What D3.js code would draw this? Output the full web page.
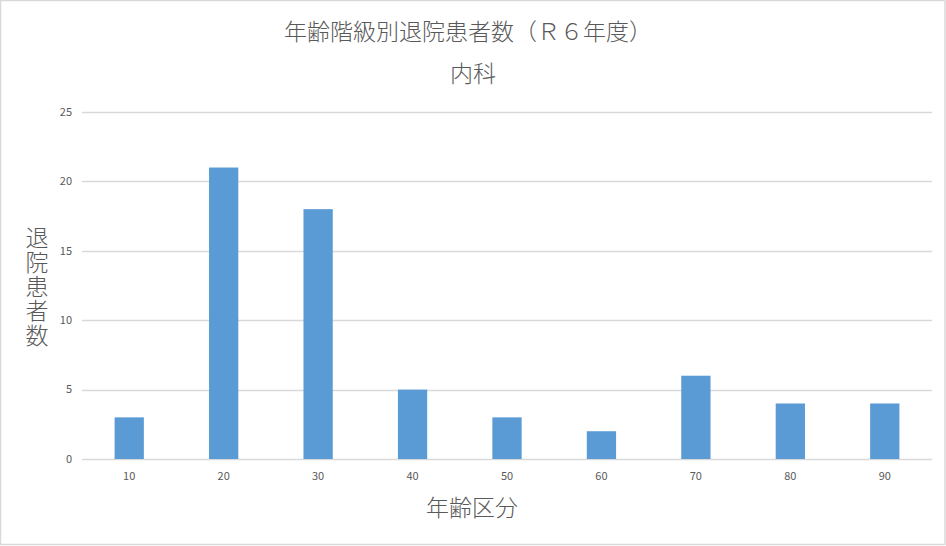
<!DOCTYPE html>
<html>
<head>
<meta charset="utf-8">
<script src="https://cdn.jsdelivr.net/npm/d3@7"></script>
<style>
  body { margin: 0; background: #fff; }
  text { font-family: "Noto Sans CJK JP", "Noto Sans", sans-serif; fill: #595959; }
</style>
</head>
<body>
<svg id="chart"></svg>
<script>
// 年齢階級別退院患者数（R6年度）内科
const ageGroups = ["10", "20", "30", "40", "50", "60", "70", "80", "90"];
const patients = [3, 21, 18, 5, 3, 2, 6, 4, 4];
const yTicks = [0, 5, 10, 15, 20, 25];

const width = 946, height = 546;
const margin = {top: 112, right: 14, bottom: 87, left: 82};

const svg = d3.select("#chart")
    .attr("width", width)
    .attr("height", height);

// outer frame
svg.append("rect")
    .attr("x", 0.5).attr("y", 0.5)
    .attr("width", width - 1.5).attr("height", height - 2)
    .attr("fill", "#fff")
    .attr("stroke", "#d9d9d9")
    .attr("stroke-width", 1.5);

const x = d3.scaleBand()
    .domain(ageGroups)
    .range([margin.left, width - margin.right])
    .paddingInner(0.69)
    .paddingOuter(0.345);

const y = d3.scaleLinear()
    .domain([0, 25])
    .range([height - margin.bottom, margin.top]);

// gridlines
svg.append("g")
    .selectAll("line")
    .data(yTicks)
    .join("line")
        .attr("x1", margin.left)
        .attr("x2", width - margin.right)
        .attr("y1", d => Math.round(y(d)) + 0.5)
        .attr("y2", d => Math.round(y(d)) + 0.5)
        .attr("stroke", "#d9d9d9")
        .attr("stroke-width", 1.3);

// y tick labels
svg.append("g")
    .selectAll("text")
    .data(yTicks)
    .join("text")
        .attr("x", margin.left - 10)
        .attr("y", d => y(d))
        .attr("dy", "0.35em")
        .attr("text-anchor", "end")
        .attr("font-size", "11px")
        .text(d => d);

// bars
svg.append("g")
    .selectAll("rect")
    .data(patients)
    .join("rect")
        .attr("x", (d, i) => x(ageGroups[i]))
        .attr("y", d => y(d))
        .attr("width", x.bandwidth())
        .attr("height", d => y(0) - y(d))
        .attr("fill", "#5b9bd5");

// x tick labels
svg.append("g")
    .selectAll("text")
    .data(ageGroups)
    .join("text")
        .attr("x", d => x(d) + x.bandwidth() / 2)
        .attr("y", y(0) + 17)
        .attr("dy", "0.35em")
        .attr("text-anchor", "middle")
        .attr("font-size", "11px")
        .text(d => d);

// titles
svg.append("text")
    .attr("x", 468)
    .attr("y", 32)
    .attr("dy", "0.35em")
    .attr("text-anchor", "middle")
    .attr("font-size", "23px")
    .attr("font-weight", 300)
    .text("年齢階級別退院患者数（Ｒ６年度）");

svg.append("text")
    .attr("x", 473)
    .attr("y", 74)
    .attr("dy", "0.35em")
    .attr("text-anchor", "middle")
    .attr("font-size", "23px")
    .attr("font-weight", 300)
    .text("内科");

// x axis title
svg.append("text")
    .attr("x", 472)
    .attr("y", 508)
    .attr("dy", "0.35em")
    .attr("text-anchor", "middle")
    .attr("font-size", "23px")
    .attr("font-weight", 300)
    .text("年齢区分");

// y axis title, stacked vertically
svg.append("text")
    .attr("x", 37)
    .attr("y", 287)
    .attr("text-anchor", "middle")
    .attr("font-size", "23px")
    .attr("font-weight", 300)
    .style("writing-mode", "vertical-rl")
    .style("text-orientation", "upright")
    .style("letter-spacing", "1.4px")
    .text("退院患者数");
</script>
</body>
</html>
